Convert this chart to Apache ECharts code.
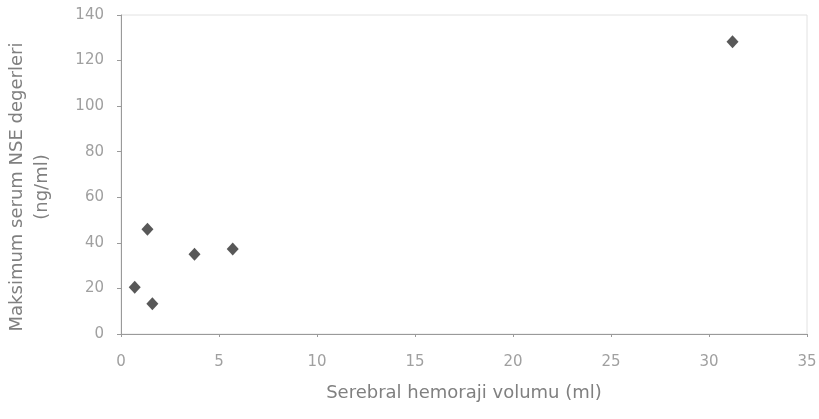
<!DOCTYPE html>
<html>
<head>
<meta charset="utf-8">
<script src="https://cdn.jsdelivr.net/npm/echarts@6/dist/echarts.min.js"></script>
<style>html,body{margin:0;padding:0;background:#fff;}#c{width:819px;height:419px;}</style>
</head>
<body>
<div id="c"></div>
<script>
const volumeMl = [0.7, 1.35, 1.6, 3.75, 5.7, 31.2];
const nseValues = [20.5, 46, 13.3, 35, 37.3, 128.3];
const xTitle = 'Serebral hemoraji volumu (ml)';
const yTitle = 'Maksimum serum NSE degerleri\n(ng/ml)';

const points = volumeMl.map((v, i) => [v, nseValues[i]]);
const chart = echarts.init(document.getElementById('c'));
const font = 'DejaVu Sans';
chart.setOption({
  animation: false,
  backgroundColor: '#fff',
  grid: { left: 121, right: 12, top: 15, bottom: 85, outerBoundsMode: 'none', containLabel: false,
          show: true, borderColor: '#e2e2e2', borderWidth: 1 },
  xAxis: {
    type: 'value', min: 0, max: 35, interval: 5,
    name: xTitle, nameLocation: 'middle', nameGap: 50,
    nameTextStyle: { color: '#808080', fontSize: 18, fontFamily: font },
    axisLine: { lineStyle: { color: '#9a9a9a' } },
    axisTick: { show: true, length: 3, lineStyle: { color: '#9a9a9a' } },
    axisLabel: { color: '#a0a0a0', fontSize: 15, fontFamily: font, margin: 21 },
    splitLine: { show: false }
  },
  yAxis: {
    type: 'value', min: 0, max: 140, interval: 20,
    name: yTitle, nameLocation: 'middle', nameGap: 66, nameRotate: 90,
    nameTextStyle: { color: '#808080', fontSize: 18, fontFamily: font, lineHeight: 25, padding: [0, 25, 0, 0] },
    axisLine: { show: true, lineStyle: { color: '#9a9a9a' } },
    axisTick: { show: true, length: 4, lineStyle: { color: '#9a9a9a' } },
    axisLabel: { color: '#a0a0a0', fontSize: 15, fontFamily: font, margin: 17 },
    splitLine: { show: false }
  },
  series: [{
    type: 'scatter',
    data: points,
    symbol: 'diamond',
    symbolSize: [12, 13],
    itemStyle: { color: '#2e2e2e' }
  }]
});
</script>
</body>
</html>
